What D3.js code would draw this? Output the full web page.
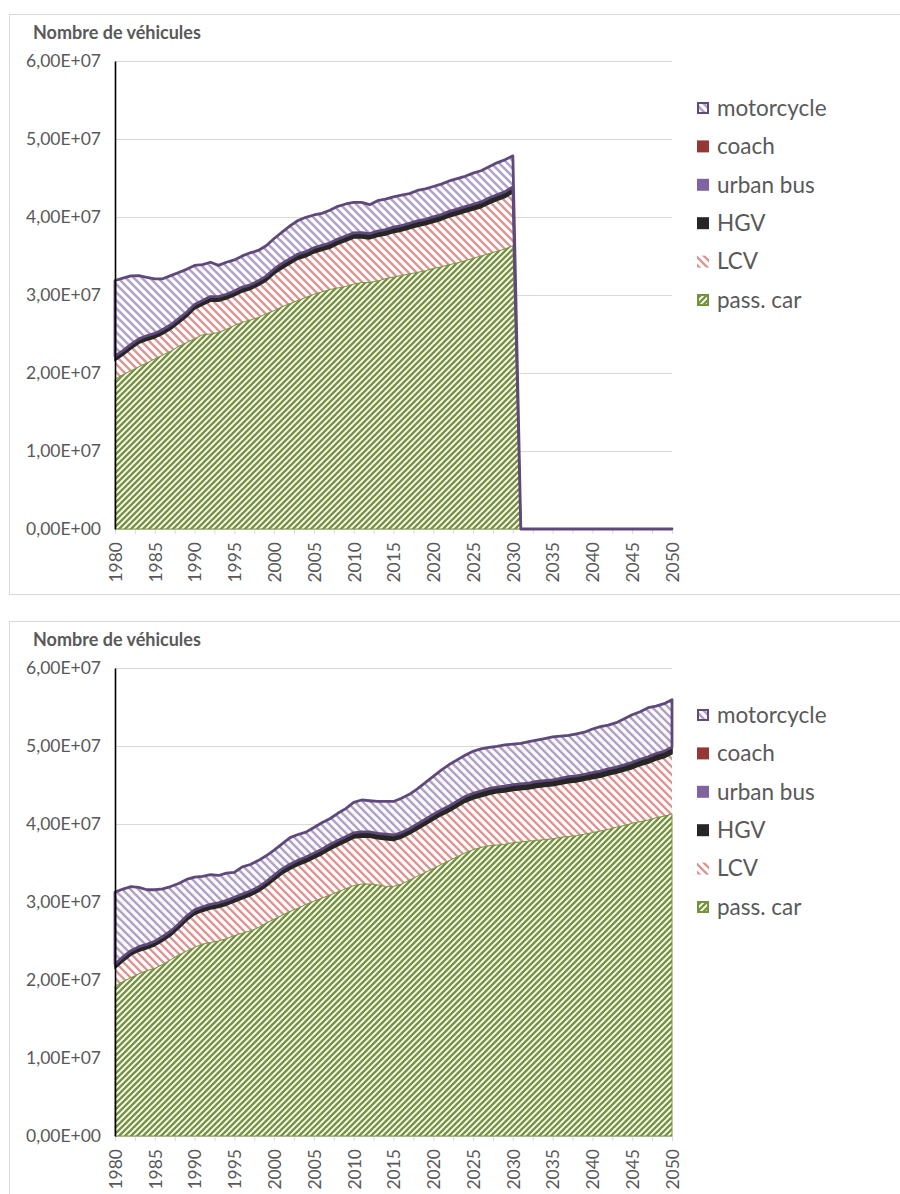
<!DOCTYPE html>
<html><head><meta charset="utf-8">
<script src="https://cdn.jsdelivr.net/npm/d3@7"></script>
<style>body{margin:0;background:#fff} svg{display:block}</style>
</head><body><svg id="c" width="900" height="1194"></svg>
<script>
// ---------- DATA (millions of vehicles) ----------
const years = d3.range(1980, 2051);
const seriesKeys = ["car", "lcv", "hgv", "bus", "coach", "moto"];
const seriesNames = ["pass. car", "LCV", "HGV", "urban bus", "coach", "motorcycle"];
const yTickValues = [0, 1e7, 2e7, 3e7, 4e7, 5e7, 6e7];
const yTickLabels = ["0,00E+00", "1,00E+07", "2,00E+07", "3,00E+07", "4,00E+07", "5,00E+07", "6,00E+07"];
const xTickValues = [1980,1982.5,1985,1987.5,1990,1992.5,1995,1997.5,2000,2002.5,2005,2007.5,2010,2012.5,2015,2017.5,2020,2022.5,2025,2027.5,2030,2032.5,2035,2037.5,2040,2042.5,2045,2047.5,2050];
const xLabelYears = [1980,1985,1990,1995,2000,2005,2010,2015,2020,2025,2030,2035,2040,2045,2050];
const chartTitle = "Nombre de véhicules";

// Top chart (scenario ending 2030)
const carTop = [19.2,19.8,20.3,20.8,21.3,21.8,22.3,22.8,23.4,23.9, 24.4,24.9,25.0,25.2,25.6,26.1,26.5,26.8,27.1,27.6, 28.0,28.5,28.9,29.3,29.7,30.1,30.4,30.7,30.9,31.1, 31.4,31.6,31.6,31.8,32.1,32.3,32.5,32.7,32.9,33.1, 33.4,33.6,33.9,34.1,34.4,34.7,35.0,35.3,35.6,35.9, 36.3,0,0,0,0,0,0,0,0,0, 0,0,0,0,0,0,0,0,0,0, 0];
const lcvTop = [2.4,2.5,2.8,3.0,2.9,2.7,2.7,2.8,3.0,3.3, 3.8,3.8,4.2,4.0,3.9,3.8,3.9,3.9,4.1,4.2, 4.7,4.9,5.1,5.3,5.2,5.3,5.3,5.3,5.6,5.8, 5.9,5.7,5.6,5.7,5.6,5.7,5.7,5.8,5.9,5.9, 5.9,6.0,6.1,6.2,6.2,6.2,6.2,6.4,6.5,6.6, 6.8,0,0,0,0,0,0,0,0,0, 0,0,0,0,0,0,0,0,0,0, 0];
const hgvTop = [0.48,0.48,0.48,0.49,0.49,0.49,0.50,0.50,0.50,0.51, 0.51,0.51,0.52,0.52,0.52,0.52,0.53,0.53,0.53,0.54, 0.54,0.55,0.55,0.55,0.56,0.56,0.56,0.57,0.57,0.57, 0.57,0.58,0.58,0.59,0.59,0.59,0.60,0.60,0.60,0.61, 0.61,0.61,0.62,0.62,0.62,0.63,0.63,0.63,0.64,0.64, 0.64,0,0,0,0,0,0,0,0,0, 0,0,0,0,0,0,0,0,0,0, 0];
const busTop = [0.02,0.02,0.02,0.02,0.02,0.02,0.02,0.02,0.02,0.02, 0.02,0.02,0.02,0.02,0.02,0.02,0.02,0.02,0.02,0.02, 0.03,0.03,0.03,0.03,0.03,0.03,0.03,0.03,0.03,0.03, 0.03,0.03,0.03,0.03,0.03,0.03,0.03,0.03,0.03,0.03, 0.03,0.03,0.03,0.03,0.03,0.03,0.03,0.03,0.03,0.03, 0.03,0,0,0,0,0,0,0,0,0, 0,0,0,0,0,0,0,0,0,0, 0];
const coachTop = [0.06,0.06,0.06,0.06,0.06,0.06,0.06,0.06,0.06,0.06, 0.06,0.06,0.06,0.06,0.06,0.06,0.06,0.06,0.06,0.06, 0.07,0.07,0.07,0.07,0.07,0.07,0.07,0.07,0.07,0.07, 0.07,0.07,0.07,0.07,0.07,0.07,0.07,0.07,0.07,0.07, 0.07,0.07,0.07,0.07,0.07,0.07,0.07,0.07,0.07,0.07, 0.07,0,0,0,0,0,0,0,0,0, 0,0,0,0,0,0,0,0,0,0, 0];
const motoTop = [9.7,9.3,8.8,8.1,7.5,7.0,6.5,6.3,5.9,5.5, 5.0,4.6,4.4,4.0,4.1,4.0,4.0,4.1,3.9,3.9, 3.9,4.0,4.2,4.3,4.4,4.2,4.1,4.2,4.2,4.1, 3.9,3.9,3.7,3.9,3.9,3.9,3.9,3.8,3.9,3.9, 3.9,3.9,3.9,3.9,3.9,4.0,4.0,4.0,4.1,4.1, 4.0,0,0,0,0,0,0,0,0,0, 0,0,0,0,0,0,0,0,0,0, 0];

// Bottom chart (scenario to 2050)
const carBot = [19.2,19.8,20.3,20.8,21.2,21.5,22.0,22.6,23.2,23.7, 24.2,24.6,24.8,25.0,25.3,25.7,26.0,26.3,26.7,27.3, 27.8,28.3,28.8,29.2,29.7,30.1,30.5,30.9,31.3,31.7, 32.1,32.3,32.3,32.2,32.0,32.0,32.3,32.8,33.3,33.8, 34.3,34.8,35.3,35.8,36.3,36.7,37.0,37.2,37.3,37.4, 37.6,37.7,37.8,37.9,38.0,38.1,38.3,38.4,38.5,38.7, 38.9,39.1,39.3,39.6,39.8,40.1,40.3,40.5,40.8,41.0, 41.3];
const lcvBot = [2.3,2.6,2.9,2.9,2.8,2.9,3.0,3.1,3.4,3.9, 4.2,4.2,4.3,4.3,4.3,4.3,4.4,4.5,4.6,4.7, 5.0,5.3,5.4,5.5,5.4,5.5,5.6,5.8,5.9,6.0, 6.1,6.0,6.0,5.9,6.0,5.9,5.9,5.9,6.0,6.1, 6.2,6.3,6.3,6.4,6.5,6.5,6.5,6.6,6.7,6.7, 6.7,6.7,6.7,6.8,6.8,6.8,6.8,6.9,6.9,6.9, 6.9,6.9,7.0,6.9,7.0,7.0,7.2,7.3,7.4,7.5, 7.7];
const hgvBot = [0.48,0.48,0.48,0.49,0.49,0.49,0.50,0.50,0.50,0.51, 0.51,0.51,0.52,0.52,0.52,0.52,0.53,0.53,0.53,0.54, 0.54,0.55,0.55,0.55,0.56,0.56,0.56,0.57,0.57,0.57, 0.57,0.58,0.58,0.59,0.59,0.59,0.60,0.60,0.60,0.61, 0.61,0.61,0.62,0.62,0.62,0.63,0.63,0.63,0.64,0.64, 0.64,0.65,0.65,0.65,0.66,0.66,0.66,0.67,0.67,0.67, 0.68,0.68,0.68,0.69,0.69,0.70,0.70,0.71,0.72,0.73, 0.74];
const busBot = [0.02,0.02,0.02,0.02,0.02,0.02,0.02,0.02,0.02,0.02, 0.02,0.02,0.02,0.02,0.02,0.02,0.02,0.02,0.02,0.02, 0.03,0.03,0.03,0.03,0.03,0.03,0.03,0.03,0.03,0.03, 0.03,0.03,0.03,0.03,0.03,0.03,0.03,0.03,0.03,0.03, 0.03,0.03,0.03,0.03,0.03,0.03,0.03,0.03,0.03,0.03, 0.03,0.03,0.03,0.03,0.03,0.03,0.03,0.03,0.03,0.03, 0.03,0.03,0.03,0.03,0.03,0.03,0.03,0.03,0.03,0.03, 0.03];
const coachBot = [0.06,0.06,0.06,0.06,0.06,0.06,0.06,0.06,0.06,0.06, 0.06,0.06,0.06,0.06,0.06,0.06,0.06,0.06,0.06,0.06, 0.07,0.07,0.07,0.07,0.07,0.07,0.07,0.07,0.07,0.07, 0.07,0.07,0.07,0.07,0.07,0.07,0.07,0.07,0.07,0.07, 0.07,0.07,0.07,0.07,0.07,0.07,0.07,0.07,0.07,0.07, 0.07,0.07,0.07,0.07,0.07,0.07,0.07,0.07,0.07,0.07, 0.07,0.07,0.07,0.07,0.07,0.07,0.07,0.07,0.07,0.07, 0.07];
const motoBot = [9.2,8.7,8.2,7.6,7.0,6.6,6.1,5.7,5.2,4.7, 4.2,3.9,3.8,3.5,3.5,3.2,3.5,3.4,3.4,3.3, 3.2,3.2,3.4,3.3,3.2,3.3,3.4,3.3,3.5,3.6, 3.9,4.1,4.0,4.1,4.2,4.3,4.4,4.4,4.5,4.7, 4.9,5.1,5.3,5.3,5.3,5.4,5.4,5.3,5.2,5.3, 5.2,5.2,5.3,5.3,5.4,5.5,5.4,5.3,5.4,5.4, 5.6,5.7,5.6,5.7,5.9,6.1,6.1,6.3,6.1,6.1, 6.1];

// ---------- DRAWING ----------
const FONT = "Lato, 'Open Sans', sans-serif";
const TXT = "#595959";
const svg = d3.select("#c");
const defs = svg.append("defs");

function stripes(id, color, w, dir, sw) {
  const p = defs.append("pattern").attr("id", id)
    .attr("patternUnits", "userSpaceOnUse").attr("width", w).attr("height", w);
  p.append("rect").attr("width", w).attr("height", w).attr("fill", "#fff");
  const d = dir === "up"
    ? `M${-w/2},${w/2}L${w/2},${-w/2}M0,${w}L${w},0M${w/2},${w*1.5}L${w*1.5},${w/2}`
    : `M${-w/2},${w/2}L${w/2},${w*1.5}M0,0L${w},${w}M${w/2},${-w/2}L${w*1.5},${w/2}`;
  p.append("path").attr("d", d).attr("stroke", color).attr("stroke-width", sw).attr("fill", "none");
}
stripes("patCar", "#77933C", 6, "up", 2.4);
stripes("patLcv", "#DA9694", 8, "down", 2.4);
stripes("patMoto", "#B3A2C7", 8, "down", 2.6);

const fills = {car: "url(#patCar)", lcv: "url(#patLcv)", hgv: "#262626", bus: "#8064A2", coach: "#953735", moto: "url(#patMoto)"};
const legendStrokes = {car: "#77933C", lcv: "none", hgv: "none", bus: "none", coach: "none", moto: "#604A7B"};

function drawChart(oy, frameH, arrs) {
  const g = svg.append("g").attr("transform", `translate(0,${oy})`);
  g.append("rect").attr("x", 9.5).attr("y", 14.5).attr("width", 900).attr("height", frameH)
    .attr("fill", "#fff").attr("stroke", "#d9d9d9");

  const x = d3.scaleLinear().domain([1980, 2050]).range([115, 672]);
  const y = d3.scaleLinear().domain([0, 6e7]).range([529, 61]);

  // gridlines
  g.append("g").selectAll("line").data(yTickValues.slice(1)).join("line")
    .attr("x1", 115).attr("x2", 672)
    .attr("y1", d => Math.round(y(d)) + 0.5).attr("y2", d => Math.round(y(d)) + 0.5)
    .attr("stroke", "#d9d9d9").attr("stroke-width", 1);

  // title
  g.append("text").attr("x", 33).attr("y", 39).text(chartTitle)
    .attr("font-family", FONT).attr("font-weight", "bold").attr("font-size", 18).attr("fill", TXT);

  // stacked data
  const rows = years.map((yr, i) => {
    const r = {year: yr};
    seriesKeys.forEach(k => r[k] = arrs[k][i] * 1e6);
    return r;
  });
  const stacked = d3.stack().keys(seriesKeys)(rows);
  const area = d3.area().x(d => x(d.data.year)).y0(d => y(d[0])).y1(d => y(d[1]));

  // x axis (light gray line + ticks)
  const xa = g.append("g").attr("transform", `translate(0,${y(0)})`)
    .call(d3.axisBottom(x).tickValues(xTickValues).tickSize(5).tickSizeOuter(0)
      .tickFormat(d => xLabelYears.includes(d) ? String(d) : ""));
  xa.select(".domain").attr("stroke", "#d9d9d9");
  xa.selectAll(".tick line").attr("stroke", "#d9d9d9");
  xa.selectAll(".tick text")
    .attr("transform", "rotate(-90)").attr("text-anchor", "end")
    .attr("x", -13).attr("y", 0).attr("dy", "0.36em")
    .attr("font-family", FONT).attr("font-size", 17.5).attr("fill", TXT);

  // area fills
  g.append("g").selectAll("path").data(stacked).join("path")
    .attr("d", area).attr("fill", d => fills[d.key]).attr("stroke", "none");

  // area outlines
  const strokeStyle = {car: ["#77933C", 1], hgv: ["#262626", 1.6], moto: ["#5F497A", 2.8]};
  g.append("g").selectAll("path").data(stacked.filter(s => strokeStyle[s.key])).join("path")
    .attr("d", area).attr("fill", "none")
    .attr("stroke", d => strokeStyle[d.key][0])
    .attr("stroke-width", d => strokeStyle[d.key][1])
    .attr("stroke-linejoin", "round");

  // y axis
  const ya = g.append("g").attr("transform", "translate(115,0)")
    .call(d3.axisLeft(y).tickValues(yTickValues).tickSize(0).tickPadding(14)
      .tickFormat((d, i) => yTickLabels[i]));
  ya.select(".domain").attr("stroke", "#000").attr("stroke-width", 1.6);
  ya.selectAll(".tick text").attr("font-family", FONT).attr("font-size", 17.5).attr("fill", TXT);

  // legend
  const leg = g.append("g");
  const order = seriesKeys.slice().reverse();
  order.forEach((k, i) => {
    const cy = 108 + i * 38.4;
    const stroked = legendStrokes[k] !== "none";
    leg.append("rect")
      .attr("x", stroked ? 698 : 697).attr("y", cy - (stroked ? 5 : 6))
      .attr("width", stroked ? 10 : 12).attr("height", stroked ? 10 : 12)
      .attr("fill", fills[k])
      .attr("stroke", legendStrokes[k]).attr("stroke-width", 2);
    leg.append("text").attr("x", 717).attr("y", cy).attr("dy", "0.35em")
      .text(seriesNames[seriesKeys.indexOf(k)])
      .attr("font-family", FONT).attr("font-size", 22.5).attr("fill", TXT);
  });
}

drawChart(0, 580, {car: carTop, lcv: lcvTop, hgv: hgvTop, bus: busTop, coach: coachTop, moto: motoTop});
drawChart(607, 600, {car: carBot, lcv: lcvBot, hgv: hgvBot, bus: busBot, coach: coachBot, moto: motoBot});
</script>
</body></html>
